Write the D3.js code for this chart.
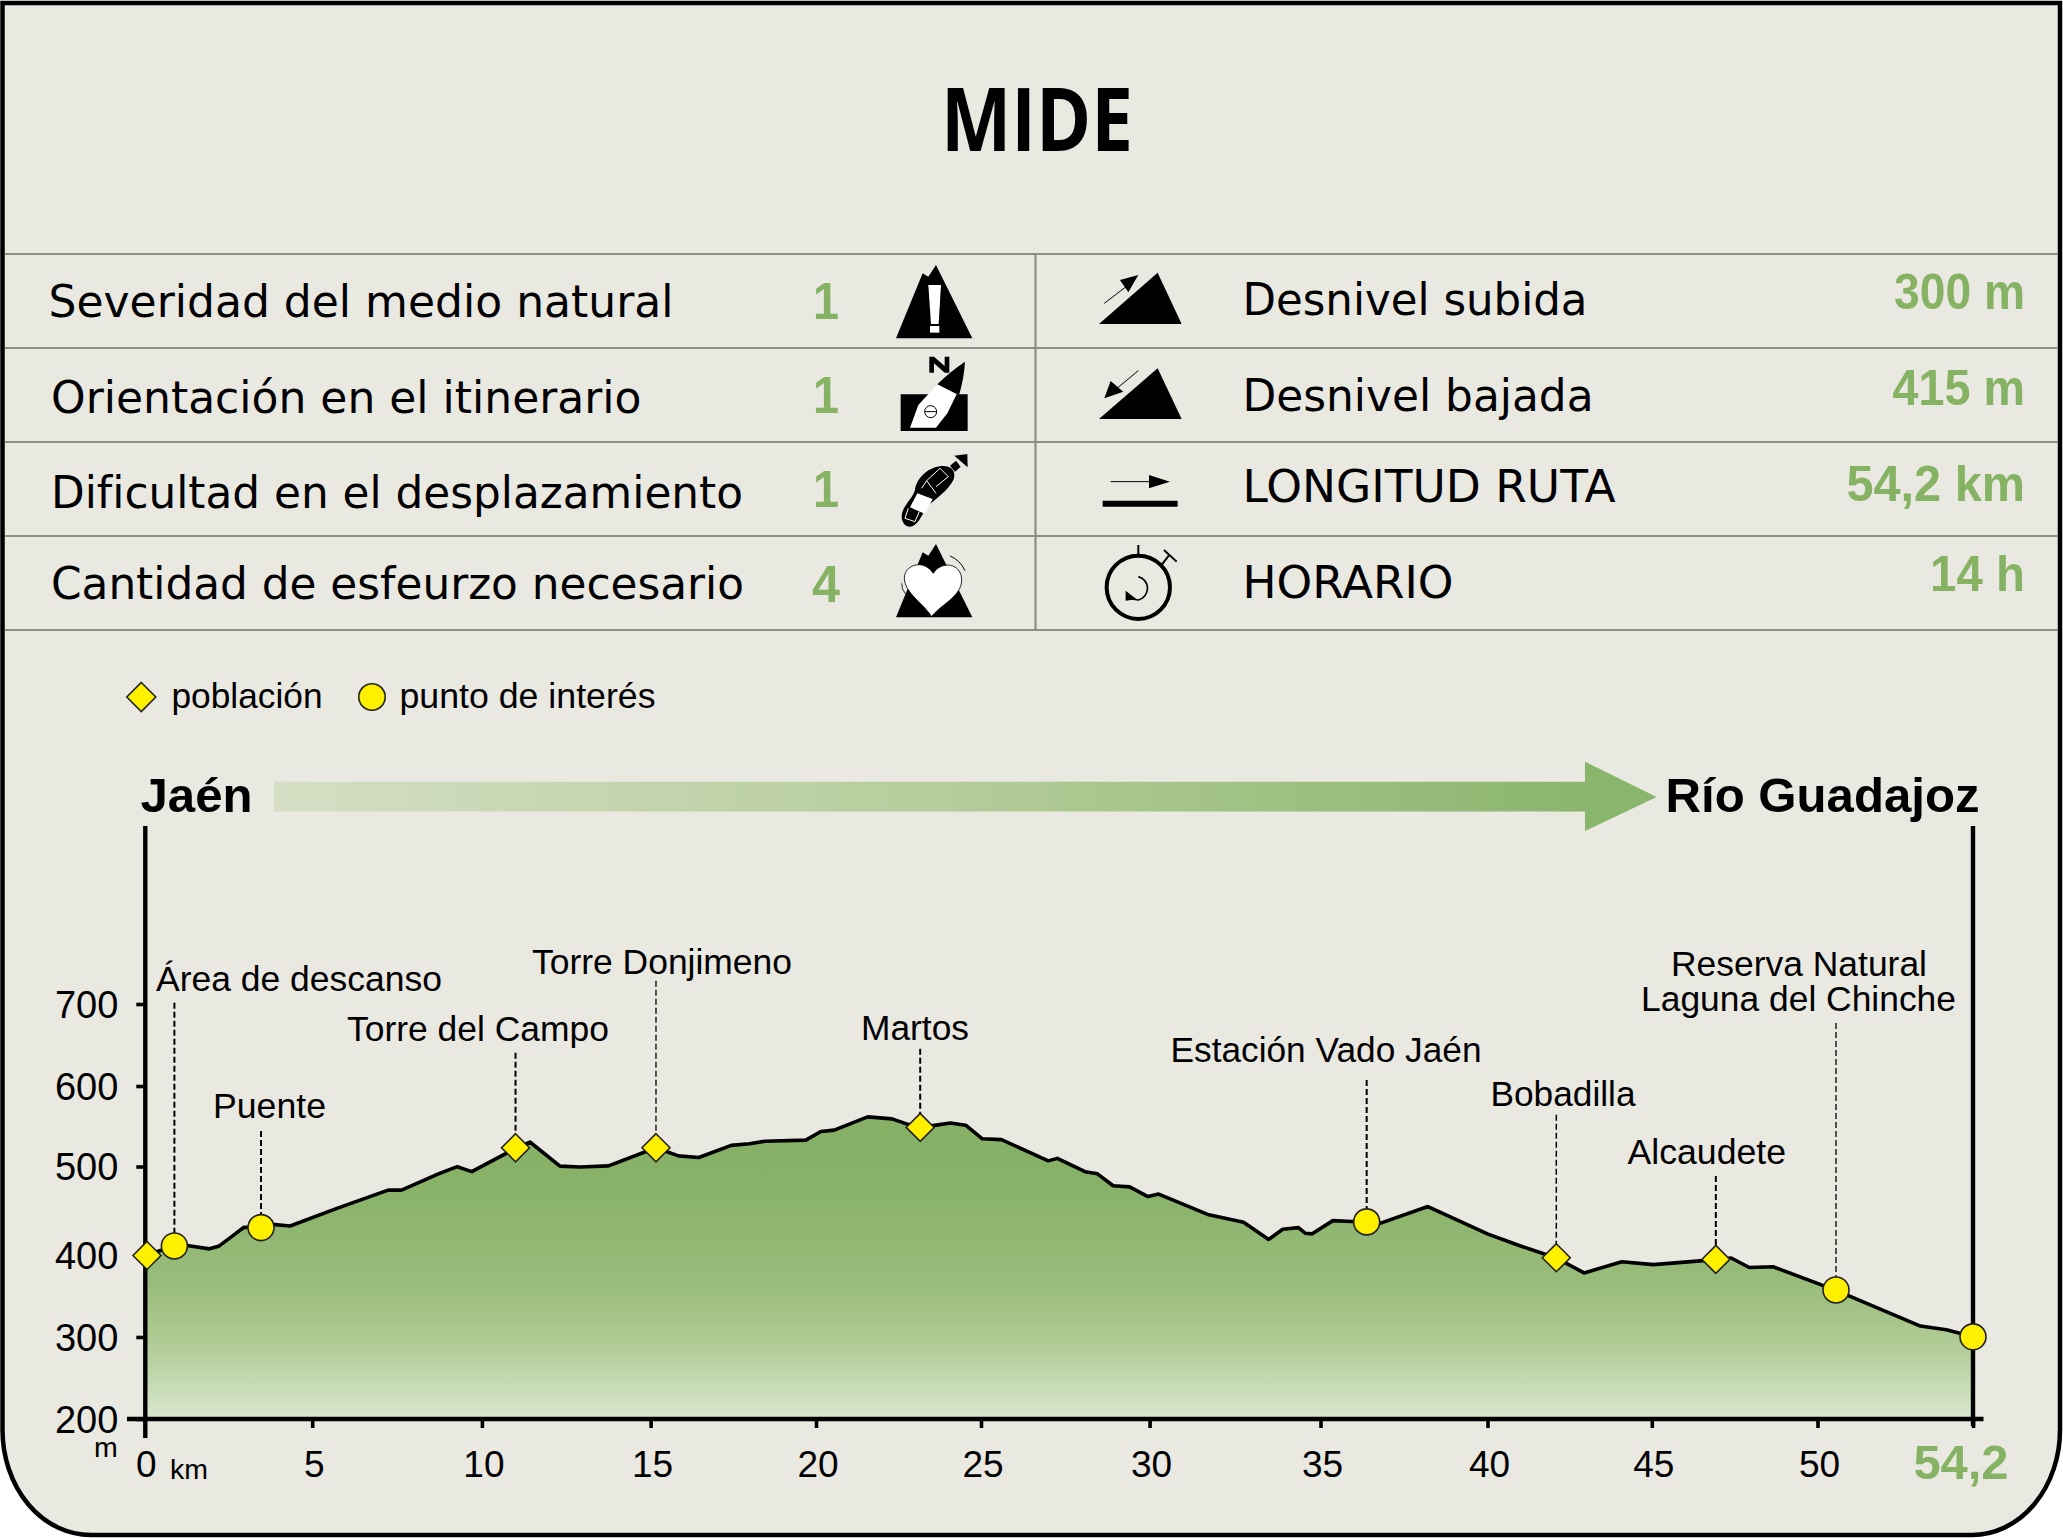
<!DOCTYPE html>
<html lang="es"><head><meta charset="utf-8"><title>MIDE</title>
<script src="https://cdn.jsdelivr.net/npm/d3@7"></script>
<style>html,body{margin:0;padding:0;background:#fff}svg{display:block}</style></head>
<body><div id="chart"></div>
<script>
// ---- data ----
const profileKm = [0,0.87,1.25,1.92,2.19,2.59,2.95,3.46,3.79,4.33,5.73,7.26,7.66,8.8,9.33,9.76,11.07,11.5,12.4,13,13.85,15.27,15.94,16.55,17.52,18.06,18.53,19.75,20.2,20.6,21.6,22.33,22.8,23.17,23.6,24.07,24.53,25.03,25.6,27,27.27,28.1,28.47,28.94,29.43,29.98,30.3,31.8,32.84,33.59,34.01,34.48,34.68,34.88,35.51,36.08,36.52,36.94,38.35,40.15,41.08,42.19,43.02,44.15,45.09,46.96,47.42,47.96,48.67,50.5,52.78,53.48,54.2];
const profileElev = [397,408.5,409,405,408,420,431,430.6,434.5,432.6,453.7,475.8,475.8,496,504,498,526,533.7,504.7,503.7,505,526.8,517,515,529.7,531.7,534.6,536,546.4,548,564,561.6,555,551.3,553.8,556.7,554,537.6,536.6,511,514,498,495.4,481,479.7,468,471,446,437,416.4,428.7,430.6,423.8,423,439,438,437.5,436,456,422.8,409,394,376,389.4,386,392,394,382.5,383.5,355,312,307.5,299];
const markerNames = ["Jaén","Área de descanso","Puente","Torre del Campo","Torre Donjimeno","Martos","Estación Vado Jaén","Bobadilla","Alcaudete","Reserva Natural Laguna del Chinche","Río Guadajoz"];
const markerKm = [0.05,0.87,3.46,11.07,15.27,23.17,36.52,42.19,46.96,50.5,54.2];
const markerElev = [397,408.5,430.6,526.8,526.8,551.3,437.5,394.3,392.3,355.5,299];
const markerKind = ["p","i","i","p","p","p","i","p","p","i","i"];
const xTicks = [0,5,10,15,20,25,30,35,40,45,50,54.2];
const yTicks = [200,300,400,500,600,700];
const mideLabels = ["Severidad del medio natural","Orientación en el itinerario","Dificultad en el desplazamiento","Cantidad de esfeurzo necesario"];
const mideValues = ["1","1","1","4"];
const routeLabels = ["Desnivel subida","Desnivel bajada","LONGITUD RUTA","HORARIO"];
const routeValues = ["300 m","415 m","54,2 km","14 h"];
const legendLabels = ["población","punto de interés"];

// ---- layout ----
const W=2063,H=1538;
const BG="#E9E8E1",GREEN="#86B263",RULE="#8E8D86",YEL="#FFF000";
const SANS="'Liberation Sans',Arial,sans-serif",VERD="'DejaVu Sans',Verdana,sans-serif";
const svg=d3.select("#chart").append("svg").attr("width",W).attr("height",H).attr("viewBox",`0 0 ${W} ${H}`);
const defs=svg.append("defs");
const areaGrad=defs.append("linearGradient").attr("id","areaGrad").attr("gradientUnits","userSpaceOnUse")
  .attr("x1",0).attr("x2",0).attr("y1",1125).attr("y2",1419);
[[0,"#86B066"],[.2,"#88B268"],[.55,"#9ABD7C"],[.76,"#B2CD98"],[.98,"#D6E5CB"],[1,"#D9E7CF"]].forEach(s=>areaGrad.append("stop").attr("offset",s[0]).attr("stop-color",s[1]));
const arrowGrad=defs.append("linearGradient").attr("id","arrowGrad").attr("gradientUnits","userSpaceOnUse")
  .attr("x1",274).attr("x2",1600).attr("y1",0).attr("y2",0);
[[0,"#D5DEC4"],[.5,"#B5CD9B"],[1,"#89B56C"]].forEach(s=>arrowGrad.append("stop").attr("offset",s[0]).attr("stop-color",s[1]));

svg.append("path").attr("d","M2.5,3 H2060 V1430 A88 105 0 0 1 1972,1535 H91 A88 105 0 0 1 2.5,1430 Z")
  .attr("fill",BG).attr("stroke","#000").attr("stroke-width",4.5);

function txt(s,x,y,size,o={}){
  const t=svg.append("text").attr("x",x).attr("y",y).attr("font-family",o.font||SANS).attr("font-size",size)
    .attr("font-weight",o.bold?"700":"400").attr("fill",o.fill||"#000").attr("text-anchor",o.anchor||"start").text(s);
  if(o.w) t.attr("textLength",o.w).attr("lengthAdjust","spacingAndGlyphs");
  return t;
}
txt("MIDE",941,150.7,87,{bold:true,font:"'Open Sans','Noto Sans',sans-serif",w:192});

// table
const rowY=[254,348,442,536,630];
rowY.forEach(y=>svg.append("line").attr("x1",5).attr("x2",2058).attr("y1",y).attr("y2",y).attr("stroke",RULE).attr("stroke-width",2.2));
svg.append("line").attr("x1",1035.5).attr("x2",1035.5).attr("y1",254).attr("y2",630).attr("stroke",RULE).attr("stroke-width",2.2);
const leftLayout=[[48.5,317,625],[51,412.7,590.5],[51,507.7,692],[51,599,693]];
const numBase=[319.3,413,507,601.7];
mideLabels.forEach((s,i)=>{const l=leftLayout[i];txt(s,l[0],l[1],44,{font:VERD,w:l[2]});
  txt(mideValues[i],826,numBase[i],51,{bold:true,fill:GREEN,anchor:"middle"}).attr("textLength",i===3?28:26).attr("lengthAdjust","spacingAndGlyphs");});
const rightLayout=[[1242.5,315,345],[1242.5,410.7,351],[1242.5,501.7,373],[1242.5,597.7,211]];
const valLayout=[[1894,309,131],[1892.5,405,132.5],[1846.5,500.7,178.5],[1930,591.3,95]];
routeLabels.forEach((s,i)=>{const l=rightLayout[i];txt(s,l[0],l[1],44,{font:VERD,w:l[2]});
  const v=valLayout[i];txt(routeValues[i],v[0],v[1],50,{bold:true,fill:GREEN,w:v[2]});});

// icons (coordinates in a 3x space anchored at 860,250)
const ic=svg.append("g").attr("transform","translate(860,250) scale(0.3333)");
const P=(d,f="#000",o={})=>ic.append("path").attr("d",d).attr("fill",f).attr("stroke",o.s||"none").attr("stroke-width",o.w||0).attr("stroke-linecap",o.cap||"butt");
const mtn=(dy)=>`M108,${265+dy} L188,${70+dy} L205,${80+dy} L228,${45+dy} L337,${265+dy} Z`;
P(mtn(0));
P("M205,105 H243 L236,222 H213 Z","#fff"); P("M210,228 H238 V248 H210 Z","#fff");
// compass
P("M122,433 H323 V543 H122 Z");
P("M150,533 L175,465 L235,400 L290,433 L262,490 L228,533 Z","#fff");
P("M232,403 Q270,365 315,335 Q312,385 297,436 Z");
ic.append("circle").attr("cx",212).attr("cy",485).attr("r",18).attr("fill","none").attr("stroke","#000").attr("stroke-width",3);
P("M194,485 H230","none",{s:"#000",w:3});
P("M208,320 H222 L254,348 V320 H268 V368 H254 L222,340 V368 H208 Z");
// boot
P("M125,800 C125,770 155,750 165,720 C170,680 210,650 245,648 C275,645 290,665 280,690 C265,720 230,745 200,770 C185,800 170,830 150,830 C135,830 125,815 125,800 Z");
P("M172,730 L218,747 L195,792 L150,772 Z","#fff");
P("M200,692 L240,655 M228,710 L265,680 M200,692 L228,730 M240,655 L265,680 M185,715 L200,692 M145,775 L135,805 L165,815 L178,785","none",{s:"#fff",w:3});
P("M270,647 L288,632 L302,650 L285,665 Z");
P("M283,617 L322,612 L323,652 Z");
// heart mountain
P(mtn(837));
P("M215,1100 C190,1060 135,1030 133,985 C133,945 190,925 220,970 C245,930 305,940 305,990 C305,1040 240,1065 215,1100 Z","#fff",{s:"#000",w:2.5});
P("M270,918 Q300,930 315,962","none",{s:"#000",w:3});
P("M125,1000 Q124,1018 137,1032","none",{s:"#000",w:2.5});
// up / down
P("M717,222 L893,68 L965,222 Z");
P("M733,160 L805,105","none",{s:"#000",w:3});
P("M780,90 L835,75 L805,127 Z");
P("M717,507 L893,355 L965,507 Z");
P("M835,362 L765,420","none",{s:"#000",w:3});
P("M733,445 L752,393 L790,425 Z");
// length
P("M752,695 H870","none",{s:"#000",w:3});
P("M867,675 L930,695 L867,715 Z");
P("M728,752 H953 V770 H728 Z");
// clock
ic.append("circle").attr("cx",835).attr("cy",1012).attr("r",95).attr("fill","none").attr("stroke","#000").attr("stroke-width",12);
P("M835,885 V918","none",{s:"#000",w:6});
P("M905,945 L928,915","none",{s:"#000",w:6});
P("M912,900 L950,935","none",{s:"#000",w:6});
P("M835,980 A36,36 0 0 1 835,1050 Q825,1050 815,1045","none",{s:"#000",w:5});
P("M797,1022 L797,1052 L830,1048 Z");

// legend
const diamond=(hw,hh)=>`M0,${-hh} L${hw},0 L0,${hh} L${-hw},0 Z`;
svg.append("path").attr("transform","translate(141.3,697)").attr("d",diamond(14.5,14.5)).attr("fill",YEL).attr("stroke","#222").attr("stroke-width",1.6);
svg.append("circle").attr("cx",372).attr("cy",697).attr("r",13.2).attr("fill",YEL).attr("stroke","#222").attr("stroke-width",1.6);
txt(legendLabels[0],171.5,707.7,34.5,{w:151});
txt(legendLabels[1],399.5,707.7,34.5,{w:256});

// route arrow
svg.append("path").attr("d","M274,781.7 H1585 V761.7 L1656.7,797 L1585,831 V811.5 H274 Z").attr("fill","url(#arrowGrad)");
txt(markerNames[0],140.5,811.7,48,{bold:true,w:112});
txt(markerNames[10],1665.5,811.7,48.5,{bold:true,w:314});

// scales
const x=d3.scaleLinear().domain([0,50,54.2]).range([145.3,1817.5,1973]);
const y=d3.scaleLinear().domain([200,700]).range([1419,1004]);
// the reference's tick marks are placed by hand, slightly off a regular grid
const xAxisScale=d3.scaleLinear().domain(xTicks).range([145.3,312.2,481.9,650.6,816,981,1149.6,1320.5,1487.5,1651.8,1817.5,1973]);
const yAxisScale=d3.scaleLinear().domain(yTicks).range([1419,1337,1255,1166.5,1086,1004]);

// area and line
const area=d3.area().x(d=>x(d[0])).y0(y(200)).y1(d=>y(d[1]));
const line=d3.line().x(d=>x(d[0])).y(d=>y(d[1]));
const pts=profileKm.map((k,i)=>[k,profileElev[i]]);
svg.append("path").attr("d",area(pts)).attr("fill","url(#areaGrad)");
svg.append("path").attr("d",line(pts)).attr("fill","none").attr("stroke","#000").attr("stroke-width",3.6).attr("stroke-linejoin","round");

// axes
const gx=svg.append("g").attr("transform","translate(0,1419)").call(d3.axisBottom(xAxisScale).tickValues(xTicks).tickSize(9).tickPadding(20).tickFormat(d=>d===54.2?"":d3.format("d")(d)));
gx.select(".domain").remove();
gx.selectAll("line").attr("stroke","#000").attr("stroke-width",3.6);
gx.selectAll("text").attr("font-family",SANS).attr("font-size",37).attr("fill","#000").attr("dx",1.5).attr("text-anchor","middle").attr("dy",0).attr("y",58);
gx.selectAll(".tick").filter(d=>d===0).remove();
const gy=svg.append("g").attr("transform","translate(145.3,0)").call(d3.axisLeft(yAxisScale).tickValues(yTicks).tickSize(9).tickPadding(18).tickFormat(d3.format("d")));
gy.select(".domain").remove();
gy.selectAll("line").attr("stroke","#000").attr("stroke-width",3.6);
gy.selectAll("text").attr("font-family",SANS).attr("font-size",38).attr("fill","#000").attr("dy","0.35em").attr("text-anchor","end").attr("x",-27);
svg.append("line").attr("x1",127).attr("x2",1983.5).attr("y1",1419).attr("y2",1419).attr("stroke","#000").attr("stroke-width",4.4);
svg.append("line").attr("x1",145.3).attr("x2",145.3).attr("y1",826).attr("y2",1438).attr("stroke","#000").attr("stroke-width",4.4);
svg.append("line").attr("x1",1973).attr("x2",1973).attr("y1",826).attr("y2",1426).attr("stroke","#000").attr("stroke-width",4.4);
txt("0",136,1477,37);
txt("km",170,1478.5,28.5);
txt("m",94,1457,28.5);
txt("54,2",1913.4,1478.5,48,{bold:true,fill:GREEN,w:95});

// markers, leaders and labels: label layout per marker
const labelLayout={
 1:{lines:[{x:156,y:990.8,w:286}],top:1002.7,lw:2},
 2:{lines:[{x:213,y:1118,w:113}],top:1131,lw:2},
 3:{lines:[{x:347,y:1040.6,w:262}],top:1052.8,lw:2},
 4:{lines:[{x:532,y:973.8,w:260}],top:980.7,lw:1.3},
 5:{lines:[{x:861,y:1039.8,w:108}],top:1048.7,lw:2},
 6:{lines:[{x:1170.5,y:1061.7,w:311}],top:1080,lw:2},
 7:{lines:[{x:1490.5,y:1105.7,w:145}],top:1114.7,lw:1.5},
 8:{lines:[{x:1627.5,y:1164,w:158.5}],top:1176,lw:2},
 9:{lines:[{x:1671,y:976,w:256},{x:1641,y:1010.5,w:315}],top:1023,lw:1.3}
};
const mk=markerKm.map((k,i)=>({i,k,e:markerElev[i],kind:markerKind[i],name:markerNames[i]}));
mk.forEach(m=>{
  const L=labelLayout[m.i]; if(!L) return;
  svg.append("line").attr("x1",x(m.k)).attr("x2",x(m.k)).attr("y1",L.top).attr("y2",y(m.e)-12)
    .attr("stroke","#000").attr("stroke-width",L.lw).attr("stroke-dasharray","6 3");
  const parts=L.lines.length>1?[m.name.slice(0,15),m.name.slice(16)]:[m.name];
  parts.forEach((s,j)=>txt(s,L.lines[j].x,L.lines[j].y,35.5,{w:L.lines[j].w}));
});
svg.append("g").selectAll("path").data(mk.filter(m=>m.kind==="p")).join("path")
  .attr("transform",d=>`translate(${x(d.k)},${y(d.e)})`).attr("d",diamond(14,14))
  .attr("fill",YEL).attr("stroke","#222").attr("stroke-width",1.6);
svg.append("g").selectAll("circle").data(mk.filter(m=>m.kind==="i")).join("circle")
  .attr("cx",d=>x(d.k)).attr("cy",d=>y(d.e)).attr("r",13)
  .attr("fill",YEL).attr("stroke","#222").attr("stroke-width",1.6);
</script></body></html>
